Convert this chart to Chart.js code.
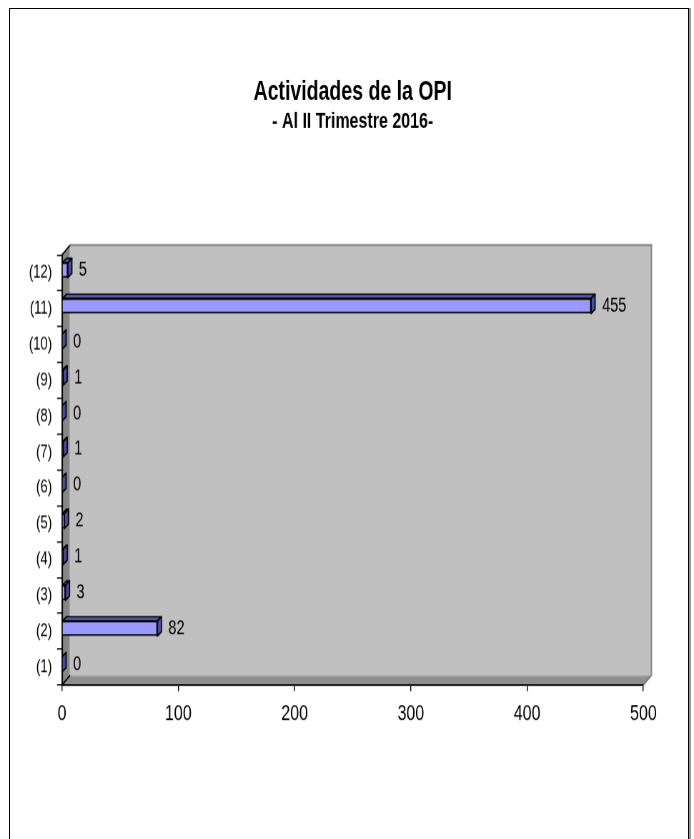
<!DOCTYPE html>
<html>
<head>
<meta charset="utf-8">
<script src="https://cdn.jsdelivr.net/npm/chart.js@4"></script>
<style>
   html, body {
      margin: 0;
      width: 694px;
      height: 839px;
      overflow: hidden;
      background: #ffffff;
   }
   #frame {
      position: absolute;
      left: 9px;
      top: 8px;
      width: 678px;
      height: 900px;
      border: 1px solid #000000;
      box-shadow: 2px 0 0 #9a9a9a;
   }
   #chart1 {
      position: absolute;
      left: 0;
      top: 0;
      transform: scaleY(1.39833);
      transform-origin: 0 0;
   }
</style>
</head>
<body>
<div id="frame"></div>
<canvas id="chart1" width="694" height="600"></canvas>
<script>
const categories = ["(1)", "(2)", "(3)", "(4)", "(5)", "(6)", "(7)", "(8)", "(9)", "(10)", "(11)", "(12)"];
const activityCounts = [0, 82, 3, 1, 2, 0, 1, 0, 1, 0, 455, 5];
const xTicks = [0, 100, 200, 300, 400, 500];
const titleText = "Actividades de la OPI";
const subtitleText = "- Al II Trimestre 2016-";

const narrowFont = "'Liberation Sans Narrow', 'Liberation Sans', Arial, sans-serif";
const wallDepth = { x: 8, y: -7 };
const barDepth = { x: 4, y: -3 };

// fake 3d look : walls behind the axes, then side faces + labels on the bars
const chart3d = {
   id: "chart3d",
   afterDatasetsUpdate(chart) {
      chart.getDatasetMeta(0).data.forEach((bar) => {
         bar.y -= 2;
      });
   },
   beforeDraw(chart) {
      const { ctx, chartArea } = chart;
      const { left, right, top, bottom } = chartArea;
      const dx = wallDepth.x;
      const dy = wallDepth.y;
      ctx.save();

      // back wall
      ctx.fillStyle = "#c0c0c0";
      ctx.fillRect(left + dx, top + dy, right - left, bottom - top);
      ctx.strokeStyle = "#8c8c8c";
      ctx.lineWidth = 1.5;
      ctx.beginPath();
      ctx.moveTo(left + dx, top + dy);
      ctx.lineTo(right + dx, top + dy);
      ctx.lineTo(right + dx, bottom + dy);
      ctx.stroke();

      // left wall
      ctx.fillStyle = "#868686";
      ctx.beginPath();
      ctx.moveTo(left, top);
      ctx.lineTo(left + dx, top + dy);
      ctx.lineTo(left + dx, bottom + dy);
      ctx.lineTo(left, bottom);
      ctx.closePath();
      ctx.fill();
      ctx.strokeStyle = "#a4a4a4";
      ctx.lineWidth = 1;
      ctx.beginPath();
      ctx.moveTo(left + dx - 0.5, top + dy + 1);
      ctx.lineTo(left + dx - 0.5, bottom + dy);
      ctx.stroke();

      // floor
      ctx.fillStyle = "#8e8e8e";
      ctx.beginPath();
      ctx.moveTo(left, bottom);
      ctx.lineTo(left + dx, bottom + dy);
      ctx.lineTo(right + dx, bottom + dy);
      ctx.lineTo(right, bottom);
      ctx.closePath();
      ctx.fill();
      ctx.strokeStyle = "#a8a8a8";
      ctx.beginPath();
      ctx.moveTo(left + dx, bottom + dy + 0.5);
      ctx.lineTo(right + dx, bottom + dy + 0.5);
      ctx.stroke();

      // edges
      ctx.strokeStyle = "#000000";
      ctx.lineWidth = 1.2;
      ctx.beginPath();
      ctx.moveTo(left, top);
      ctx.lineTo(left + dx, top + dy);
      ctx.moveTo(left, bottom);
      ctx.lineTo(left + dx, bottom + dy);
      ctx.stroke();
      ctx.strokeStyle = "#7a7a7a";
      ctx.beginPath();
      ctx.moveTo(right, bottom);
      ctx.lineTo(right + dx, bottom + dy);
      ctx.stroke();

      ctx.restore();
   },
   afterDatasetsDraw(chart) {
      const { ctx } = chart;
      const meta = chart.getDatasetMeta(0);
      const values = chart.data.datasets[0].data;
      ctx.save();
      ctx.lineWidth = 1.2;
      ctx.strokeStyle = "#000000";
      ctx.lineJoin = "round";

      meta.data.forEach((bar, i) => {
         const { x, y, base, height } = bar.getProps(["x", "y", "base", "height"], true);
         const top = y - height / 2;
         const bottom = y + height / 2;

         // top face
         ctx.fillStyle = "#5f5fb4";
         ctx.beginPath();
         ctx.moveTo(base, top);
         ctx.lineTo(base + barDepth.x, top + barDepth.y);
         ctx.lineTo(x + barDepth.x, top + barDepth.y);
         ctx.lineTo(x, top);
         ctx.closePath();
         ctx.fill();
         ctx.stroke();

         // end face
         ctx.fillStyle = "#4c4c9c";
         ctx.beginPath();
         ctx.moveTo(x, top);
         ctx.lineTo(x + barDepth.x, top + barDepth.y);
         ctx.lineTo(x + barDepth.x, bottom + barDepth.y);
         ctx.lineTo(x, bottom);
         ctx.closePath();
         ctx.fill();
         ctx.stroke();

         // value label
         ctx.fillStyle = "#000000";
         ctx.font = `14.5px ${narrowFont}`;
         ctx.textAlign = "left";
         ctx.textBaseline = "middle";
         ctx.fillText(String(values[i]), x + 11, y);
      });
      ctx.restore();
   }
};

function drawChart(canva) {
   const config = {
      type: "bar",
      data: {
         labels: categories,
         datasets: [{
            data: activityCounts,
            backgroundColor: "#9999ff",
            borderColor: "#000000",
            borderWidth: 1.2,
            barPercentage: 0.42,
            categoryPercentage: 1
         }]
      },
      options: {
         indexAxis: "y",
         responsive: false,
         animation: false,
         devicePixelRatio: 1.4,
         layout: {
            padding: { top: 0, right: 51, bottom: 0, left: 0 }
         },
         plugins: {
            legend: { display: false },
            tooltip: { enabled: false },
            // fullSize false : centred over the plot, like the original
            title: {
               display: true,
               fullSize: false,
               text: titleText,
               color: "#000000",
               font: { family: "'Liberation Sans', Arial, sans-serif", size: 19.5, weight: "bold" },
               padding: { top: 54, bottom: 0 }
            },
            subtitle: {
               display: true,
               fullSize: false,
               text: subtitleText,
               color: "#000000",
               font: { family: "'Liberation Sans', Arial, sans-serif", size: 16, weight: "bold" },
               padding: { top: 0, bottom: 85.7 }
            }
         },
         scales: {
            x: {
               min: xTicks[0],
               max: xTicks[xTicks.length - 1],
               afterBuildTicks: (scale) => {
                  scale.ticks = xTicks.map((v) => ({ value: v }));
               },
               afterFit: (scale) => {
                  scale.height = 110.1;
               },
               ticks: {
                  color: "#000000",
                  font: { family: narrowFont, size: 16 },
                  padding: 6.5,
                  maxRotation: 0
               },
               grid: {
                  drawOnChartArea: false,
                  tickLength: 4.3,
                  color: "#000000"
               },
               border: { color: "#000000", width: 1.2 }
            },
            y: {
               reverse: true,
               afterFit: (scale) => {
                  scale.width = 62;
               },
               ticks: {
                  color: "#000000",
                  font: { family: narrowFont, size: 13 },
                  padding: 5
               },
               grid: {
                  drawOnChartArea: false,
                  tickLength: 5,
                  color: "#000000",
                  offset: true
               },
               border: { color: "#000000", width: 1.5 }
            }
         }
      },
      plugins: [chart3d]
   };
   const chart = new Chart(canva, config);
   return chart;
}

drawChart(document.querySelector("#chart1"));
</script>
</body>
</html>
